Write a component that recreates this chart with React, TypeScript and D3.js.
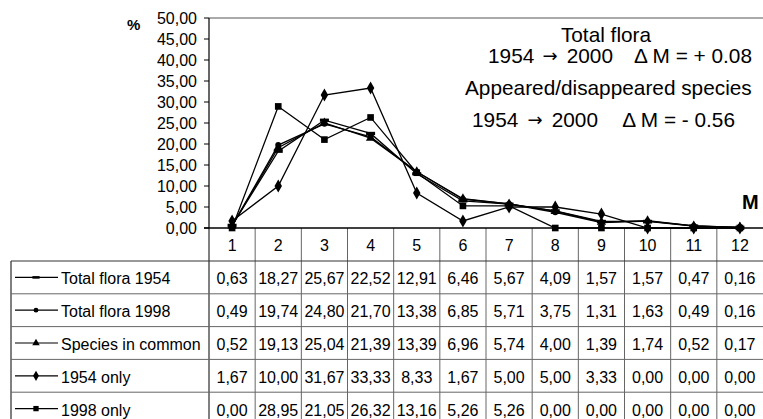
import React from "react";
import * as d3 from "d3";

const categories = ["1", "2", "3", "4", "5", "6", "7", "8", "9", "10", "11", "12"];
const yTicks = [0, 5, 10, 15, 20, 25, 30, 35, 40, 45, 50];
const seriesNames = ["Total flora 1954", "Total flora 1998", "Species in common", "1954 only", "1998 only"];
const markerKinds = ["dash", "circle", "triangle", "diamond", "square"];
const totalFlora1954 = [0.63, 18.27, 25.67, 22.52, 12.91, 6.46, 5.67, 4.09, 1.57, 1.57, 0.47, 0.16];
const totalFlora1998 = [0.49, 19.74, 24.8, 21.7, 13.38, 6.85, 5.71, 3.75, 1.31, 1.63, 0.49, 0.16];
const speciesInCommon = [0.52, 19.13, 25.04, 21.39, 13.39, 6.96, 5.74, 4.0, 1.39, 1.74, 0.52, 0.17];
const only1954 = [1.67, 10.0, 31.67, 33.33, 8.33, 1.67, 5.0, 5.0, 3.33, 0.0, 0.0, 0.0];
const only1998 = [0.0, 28.95, 21.05, 26.32, 13.16, 5.26, 5.26, 0.0, 0.0, 0.0, 0.0, 0.0];
const seriesValues = [totalFlora1954, totalFlora1998, speciesInCommon, only1954, only1998];

const FONT = "'Liberation Sans', Arial, sans-serif";
const fmt = (v: number) => v.toFixed(2).replace(".", ",");

function Marker({ kind, x, y, scale = 1 }: { kind: string; x: number; y: number; scale?: number }) {
  if (kind === "dash") {
    return <rect x={x - 4.5 * scale} y={y - 1.6 * scale} width={9 * scale} height={3.2 * scale} fill="#000" />;
  }
  if (kind === "circle") {
    return <circle cx={x} cy={y} r={3 * scale} fill="#000" />;
  }
  const sym = kind === "triangle" ? d3.symbolTriangle : kind === "diamond" ? d3.symbolDiamond : d3.symbolSquare;
  const size = kind === "triangle" ? 38 : kind === "diamond" ? 48 : 44;
  const p = d3.symbol().type(sym).size(size * scale * scale)();
  return <path d={p || ""} transform={`translate(${x},${y})`} fill="#000" />;
}

export default function App() {
  const W = 763, H = 419;
  const plotLeft = 209, plotRight = 763, plotTop = 18, plotBottom = 228;
  const x = d3.scaleBand<string>().domain(categories).range([plotLeft, plotRight]);
  const y = d3.scaleLinear().domain([0, 50]).range([plotBottom, plotTop]);
  const line = d3
    .line<number>()
    .x((_, i) => (x(categories[i]) as number) + x.bandwidth() / 2)
    .y((d) => y(d));

  const headerBottom = 261;
  const rowH = 32.8;
  const tableLeft = 11;
  const rowTop = (i: number) => headerBottom + i * rowH;
  const gridColor = "#666";
  const AF = 20.8;

  return (
    <svg width={W} height={H} style={{ position: "absolute", left: 0, top: 0, fontFamily: FONT }}>
      <rect width={W} height={H} fill="#fff" />
      {/* plot border top */}
      <line x1={plotLeft} x2={plotRight} y1={plotTop} y2={plotTop} stroke="#555" strokeWidth={1} />
      {/* y axis */}
      <line x1={plotLeft} x2={plotLeft} y1={plotTop} y2={plotBottom} stroke="#000" strokeWidth={1.2} />
      {yTicks.map((t) => (
        <g key={t}>
          <line x1={plotLeft - 5} x2={plotLeft} y1={y(t)} y2={y(t)} stroke="#000" />
          <text x={197} y={y(t) + 5.5} fontSize={16} textAnchor="end" fill="#000">
            {fmt(t)}
          </text>
        </g>
      ))}
      <text x={127} y={30} fontSize={15} fontWeight="bold">%</text>
      <text x={742} y={209} fontSize={20} fontWeight="bold">M</text>

      {/* annotations */}
      <text x={606} y={42} fontSize={AF} textAnchor="middle">Total flora</text>
      <text x={488} y={63} fontSize={AF}>1954</text>
      <text x={550} y={62} fontSize={18} textAnchor="middle" fontFamily="'DejaVu Sans'">→</text>
      <text x={613} y={63} fontSize={AF} textAnchor="end">2000</text>
      <text x={752} y={63} fontSize={AF} textAnchor="end">Δ M = + 0.08</text>
      <text x={465} y={95} fontSize={AF}>Appeared/disappeared species</text>
      <text x={472} y={127} fontSize={AF}>1954</text>
      <text x={535} y={126} fontSize={18} textAnchor="middle" fontFamily="'DejaVu Sans'">→</text>
      <text x={598} y={127} fontSize={AF} textAnchor="end">2000</text>
      <text x={735} y={127} fontSize={AF} textAnchor="end">Δ M = - 0.56</text>

      {/* table grid */}
      {categories.map((c, i) => (
        <line
          key={"v" + c}
          x1={(x(c) as number)}
          x2={(x(c) as number)}
          y1={plotBottom}
          y2={H + 10}
          stroke={i === 0 ? "#000" : gridColor}
          strokeWidth={1}
        />
      ))}
      <line x1={tableLeft} x2={tableLeft} y1={headerBottom} y2={H + 10} stroke="#000" />
      {seriesNames.map((_, i) => (
        <line key={"h" + i} x1={tableLeft} x2={W} y1={rowTop(i)} y2={rowTop(i)} stroke={i === 0 ? "#333" : gridColor} />
      ))}
      {categories.map((c) => (
        <text
          key={"hc" + c}
          x={(x(c) as number) + x.bandwidth() / 2}
          y={plotBottom + 23}
          fontSize={16}
          textAnchor="middle"
        >
          {c}
        </text>
      ))}
      {seriesNames.map((name, i) => {
        const cy = rowTop(i) + rowH / 2;
        return (
          <g key={name}>
            <line x1={15} x2={58} y1={cy} y2={cy} stroke="#000" strokeWidth={1.2} />
            <Marker kind={markerKinds[i]} x={36} y={cy} scale={0.8} />
            <text x={61} y={cy + 7} fontSize={16}>{name}</text>
            {seriesValues[i].map((v, j) => (
              <text
                key={j}
                x={(x(categories[j]) as number) + x.bandwidth() / 2}
                y={cy + 7}
                fontSize={16}
                textAnchor="middle"
              >
                {fmt(v)}
              </text>
            ))}
          </g>
        );
      })}

      {/* series lines */}
      {seriesValues.map((vals, i) => (
        <path key={"l" + i} d={line(vals) || ""} fill="none" stroke="#000" strokeWidth={1.3} />
      ))}
      {seriesValues.map((vals, i) =>
        vals.map((v, j) => (
          <Marker
            key={"m" + i + "-" + j}
            kind={markerKinds[i]}
            x={(x(categories[j]) as number) + x.bandwidth() / 2}
            y={y(v)}
          />
        ))
      )}
      {/* x axis line */}
      <line x1={plotLeft - 5} x2={plotRight} y1={plotBottom} y2={plotBottom} stroke="#000" strokeWidth={1.3} />
    </svg>
  );
}
